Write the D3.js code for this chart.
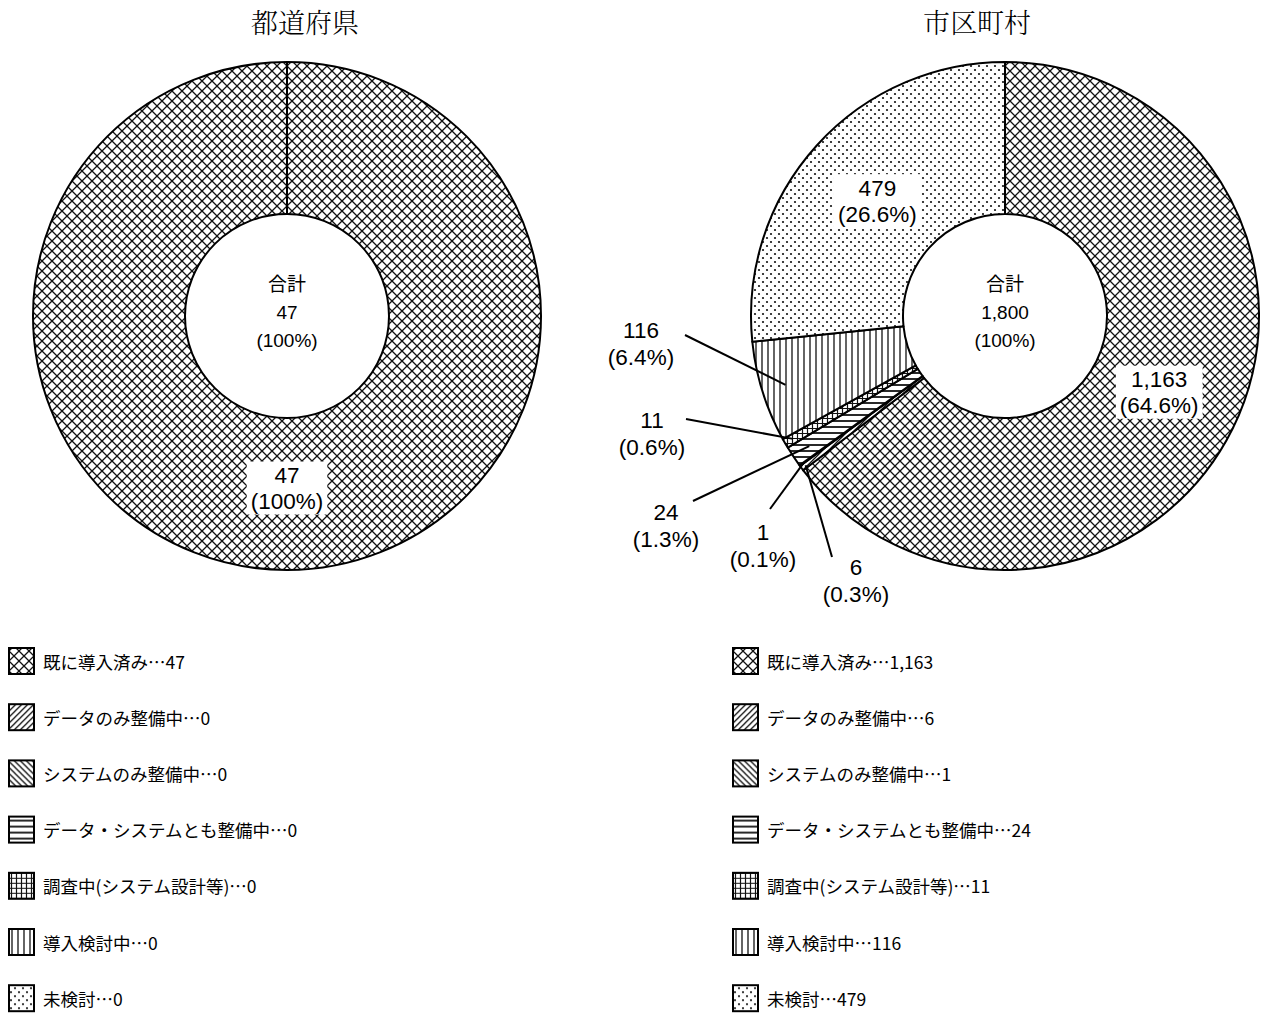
<!DOCTYPE html>
<html>
<head>
<meta charset="utf-8">
<script src="https://cdn.jsdelivr.net/npm/d3@7"></script>
<style>
  body { margin: 0; background: #fff; }
  text { font-family: "Noto Sans CJK JP", sans-serif; fill: #000; }
  .title { font-family: "Noto Serif CJK JP", "Noto Sans CJK JP", serif; font-weight: 300; }
  .num { font-family: "Liberation Sans Narrow", "Liberation Sans", "Noto Sans CJK JP", sans-serif; }
</style>
</head>
<body>
<div id="chart"></div>
<script>
// data
var categories = ["既に導入済み", "データのみ整備中", "システムのみ整備中", "データ・システムとも整備中",
                  "調査中(システム設計等)", "導入検討中", "未検討"];
var prefValues = [47, 0, 0, 0, 0, 0, 0];
var muniValues = [1163, 6, 1, 24, 11, 116, 479];
var chartTitles = ["都道府県", "市区町村"];
var totalLabel = "合計";

// one hatch pattern per category, same order
var patternIds = ["cross", "fwd", "back", "horiz", "grid", "vert", "dots"];

var W = 1262, H = 1019;
var outerR = 254, innerR = 102, labelR = 172;

var svg = d3.select("#chart").append("svg")
    .attr("width", W)
    .attr("height", H);

var defs = svg.append("defs");

// hatch patterns
function addPattern(id, size, draw) {
  var p = defs.append("pattern")
      .attr("id", id)
      .attr("patternUnits", "userSpaceOnUse")
      .attr("width", size)
      .attr("height", size);
  p.append("rect").attr("width", size).attr("height", size).attr("fill", "#fff");
  draw(p, size);
}
function hatch(p, d, w) {
  p.append("path").attr("d", d).attr("stroke", "#111").attr("stroke-width", w).attr("fill", "none");
}
addPattern("cross", 10, function(p) { hatch(p, "M0,0L10,10M10,0L0,10", 1.3); });
addPattern("fwd", 6, function(p) { hatch(p, "M0,6L6,0M-1,1L1,-1M5,7L7,5", 1.3); });
addPattern("back", 6, function(p) { hatch(p, "M0,0L6,6M-1,5L1,7M5,-1L7,1", 1.3); });
addPattern("horiz", 6, function(p) { hatch(p, "M0,3L6,3", 1.8); });
addPattern("grid", 5, function(p) { hatch(p, "M0,2.5L5,2.5M2.5,0L2.5,5", 1.2); });
addPattern("vert", 6, function(p) { hatch(p, "M3,0L3,6", 1.3); });
addPattern("dots", 8, function(p) {
  p.append("circle").attr("cx", 2).attr("cy", 2).attr("r", 1.1).attr("fill", "#111");
  p.append("circle").attr("cx", 6).attr("cy", 6).attr("r", 1.1).attr("fill", "#111");
});

var fmt = d3.format(",");
function pctText(v, total) {
  var p = v / total * 100;
  return "(" + (p === 100 ? "100" : p.toFixed(1)) + "%)";
}

// multi-line label as one text element
function stackText(sel, lines, x, y, gap, size) {
  var t = sel.append("text")
      .attr("class", "num")
      .attr("text-anchor", "middle")
      .attr("dominant-baseline", "central")
      .style("font-size", size + "px");
  lines.forEach(function(s, i) {
    t.append("tspan")
      .attr("x", x)
      .attr("y", y + i * gap)
      .text(s);
  });
  return t;
}

// callout positions for the small slices (offsets from the pie centre)
var callouts = {
  1: {lx: -149, ly: 251, sx: -173, sy: 241, r: 249},
  2: {lx: -242, ly: 216, sx: -235, sy: 193, r: 249},
  3: {lx: -339, ly: 196, sx: -312, sy: 185, r: 235},
  4: {lx: -353, ly: 104, sx: -319, sy: 103, r: 245},
  5: {lx: -364, ly: 14, sx: -320, sy: 19, r: 230}
};

var charts = [
  {title: chartTitles[0], values: prefValues, cx: 287, cy: 316, titleX: 305, legendX: 9},
  {title: chartTitles[1], values: muniValues, cx: 1005, cy: 316, titleX: 977, legendX: 733}
];

var pie = d3.pie().sort(null).value(function(d) { return d.value; });
var arc = d3.arc().innerRadius(innerR).outerRadius(outerR);

charts.forEach(function(c) {
  var total = d3.sum(c.values);
  var data = categories.map(function(name, i) {
    return {name: name, value: c.values[i], pattern: patternIds[i], idx: i};
  });
  var arcs = pie(data);

  svg.append("text")
      .attr("class", "title")
      .attr("x", c.titleX)
      .attr("y", 21)
      .attr("text-anchor", "middle")
      .attr("dominant-baseline", "central")
      .style("font-size", "27px")
      .text(c.title);

  var g = svg.append("g")
      .attr("transform", "translate(" + c.cx + "," + c.cy + ")");

  g.selectAll("path.slice")
    .data(arcs)
    .enter()
    .append("path")
      .attr("class", "slice")
      .attr("d", arc)
      .attr("fill", function(d) { return "url(#" + d.data.pattern + ")"; })
      .attr("stroke", "#000")
      .attr("stroke-width", 2)
      .attr("stroke-linejoin", "round");

  // centre total
  stackText(g, [totalLabel, fmt(total), "(100%)"], 0, -32, 28, 19);

  // labels inside the big slices
  var labelArc = d3.arc().innerRadius(labelR).outerRadius(labelR);
  arcs.filter(function(d) { return d.data.value / total >= 0.1; }).forEach(function(d) {
    var pos = labelArc.centroid(d);
    var lg = g.append("g").attr("transform", "translate(" + pos[0] + "," + pos[1] + ")");
    var bg = lg.append("rect").attr("fill", "#fff");
    stackText(lg, [fmt(d.data.value), pctText(d.data.value, total)], 0, -13, 26, 22.5);
    var bb = lg.node().getBBox();
    bg.attr("x", bb.x - 4).attr("y", bb.y - 1).attr("width", bb.width + 8).attr("height", bb.height + 2);
  });

  // callouts for the small slices
  arcs.filter(function(d) { return d.data.value > 0 && d.data.value / total < 0.1; }).forEach(function(d) {
    var spot = callouts[d.data.idx];
    var end = d3.arc().innerRadius(spot.r).outerRadius(spot.r).centroid(d);
    g.append("line")
      .attr("x1", spot.sx).attr("y1", spot.sy)
      .attr("x2", end[0]).attr("y2", end[1])
      .attr("stroke", "#000")
      .attr("stroke-width", 2);
    stackText(g, [fmt(d.data.value), pctText(d.data.value, total)], spot.lx, spot.ly, 27, 22.5);
  });

  // legend
  var legend = svg.append("g")
      .attr("transform", "translate(" + c.legendX + ",0)");
  var rows = legend.selectAll("g.row")
    .data(data)
    .enter()
    .append("g")
      .attr("class", "row")
      .attr("transform", function(d, i) { return "translate(0," + (661 + i * 56.2) + ")"; });
  rows.append("rect")
      .attr("x", 0)
      .attr("y", -13)
      .attr("width", 25)
      .attr("height", 26)
      .attr("fill", function(d) { return "url(#" + d.pattern + ")"; })
      .attr("stroke", "#000")
      .attr("stroke-width", 2);
  rows.append("text")
      .attr("x", 34)
      .attr("y", 0)
      .attr("dominant-baseline", "central")
      .style("font-size", "17.5px")
      .text(function(d) { return d.name + "…" + fmt(d.value); });
});
</script>
</body>
</html>
